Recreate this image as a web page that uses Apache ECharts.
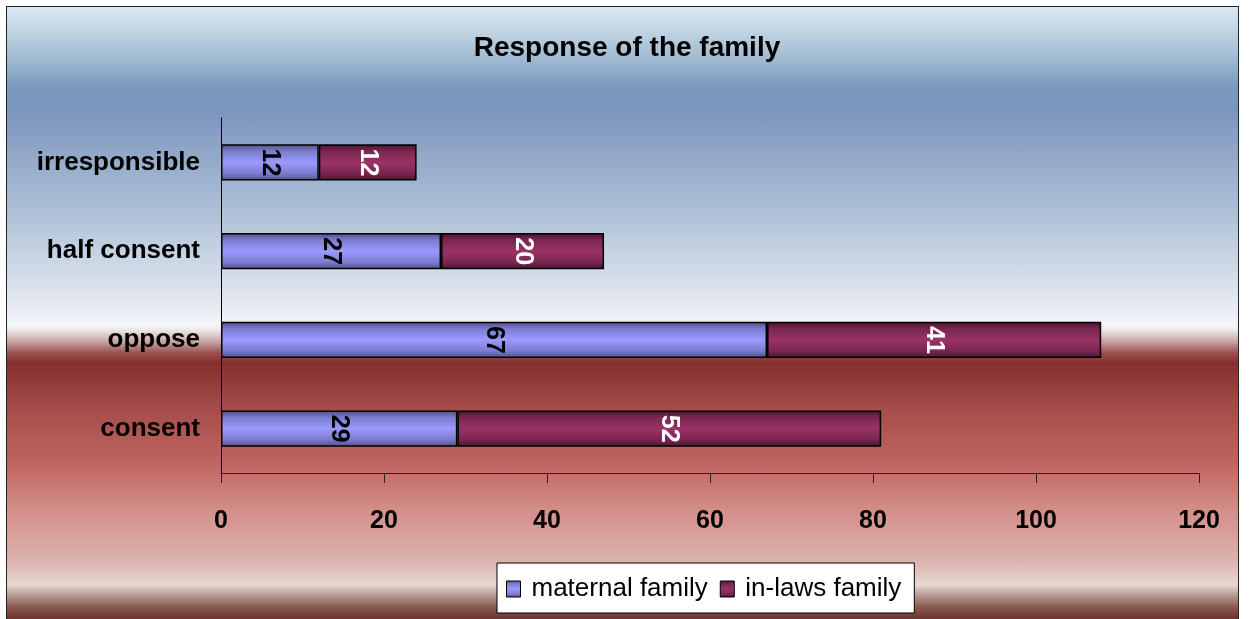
<!DOCTYPE html>
<html>
<head>
<meta charset="utf-8">
<script src="https://cdn.jsdelivr.net/npm/echarts@6/dist/echarts.min.js"></script>
<style>
html,body{margin:0;padding:0;background:#fff;width:1254px;height:619px;overflow:hidden;}
#bg{position:absolute;left:6px;top:6px;width:1231px;height:640px;border:1.5px solid #222;
background:linear-gradient(to bottom,
 #dce9f2 0px, #a9c2d6 44px, #7b99bc 80px, #7b94bc 100px, #a8bcd4 195px, #dde4ee 285px, #f3f5f8 318px,
 #eee6e6 323px, #c9a8a8 334px, #9a5050 346px, #85302e 356px, #a04a48 395px, #c06460 455px,
 #d4908a 505px, #dcb4ae 555px, #e8d8d2 578px, #c0a8a0 586px, #8a5a50 600px, #6a3028 613px, #6a3028 640px);}
#chart{position:absolute;left:0;top:0;width:1254px;height:619px;}
</style>
</head>
<body>
<div id="bg"></div>
<div id="chart"></div>
<script>
const categories = ['consent', 'oppose', 'half consent', 'irresponsible'];
const maternalFamily = [29, 67, 27, 12];
const inLawsFamily = [52, 41, 20, 12];
const seriesNames = ['maternal family', 'in-laws family'];
const titleText = 'Response of the family';

const chart = echarts.init(document.getElementById('chart'));
const grad = (edge, mid, center) => new echarts.graphic.LinearGradient(0, 0, 0, 1, [
  {offset: 0, color: edge}, {offset: 0.2, color: mid}, {offset: 0.5, color: center},
  {offset: 0.8, color: mid}, {offset: 1, color: edge}
]);
const font = 'Liberation Sans, Arial, sans-serif';
chart.setOption({
  backgroundColor: 'transparent',
  animation: false,
  title: {text: titleText, left: 'center', top: 29,
    textStyle: {fontFamily: font, fontSize: 28, fontWeight: 'bold', color: '#000'}},
  grid: {left: 221, right: 55, top: 118, bottom: 146},
  legend: {
    data: seriesNames, bottom: 6, left: 497, icon: 'rect',
    backgroundColor: '#fff', borderColor: '#000', borderWidth: 1,
    padding: [13, 13, 11, 9], itemGap: 12, itemWidth: 14, itemHeight: 16,
    textStyle: {fontFamily: font, fontSize: 26, color: '#000', padding: [0, 0, 0, 6]},
    itemStyle: {borderColor: '#000', borderWidth: 1}
  },
  xAxis: {
    type: 'value', min: 0, max: 120, interval: 20,
    axisLine: {show: true, lineStyle: {color: '#222', width: 1}},
    axisTick: {show: true, length: 10, lineStyle: {color: '#222'}},
    splitLine: {show: false},
    axisLabel: {margin: 36, fontFamily: font, fontSize: 25, fontWeight: 'bold', color: '#000'}
  },
  yAxis: {
    type: 'category', data: categories,
    axisLine: {show: true, lineStyle: {color: '#000', width: 1}},
    axisTick: {show: false},
    axisLabel: {margin: 21, fontFamily: font, fontSize: 26, fontWeight: 'bold', color: '#000'}
  },
  series: [
    {name: seriesNames[0], type: 'bar', stack: 'a', data: maternalFamily, barWidth: '41%',
     itemStyle: {color: grad('#4e4e88', '#7c7cd0', '#9a9aff'), borderColor: '#000', borderWidth: 1.5},
     label: {show: true, position: 'inside', rotate: -90, fontFamily: font, fontSize: 25, fontWeight: 'bold', color: '#000'}},
    {name: seriesNames[1], type: 'bar', stack: 'a', data: inLawsFamily,
     itemStyle: {color: grad('#4a1430', '#7a2650', '#9a3366'), borderColor: '#000', borderWidth: 1.5},
     label: {show: true, position: 'inside', rotate: -90, fontFamily: font, fontSize: 25, fontWeight: 'bold', color: '#fff'}}
  ]
});
</script>
</body>
</html>
